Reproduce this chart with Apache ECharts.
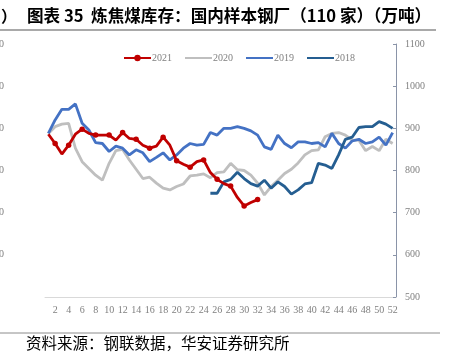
<!DOCTYPE html>
<html lang="zh">
<head>
    <meta charset="UTF-8">
    <title>炼焦煤库存</title>
    <script src="https://cdn.jsdelivr.net/npm/echarts@6/dist/echarts.min.js"></script>
    <style>
        * { margin: 0; padding: 0 }
        html, body { width: 100%; height: 100%; background: #fff }
        #main { width: 457px; height: 354px }
    </style>
</head>
<body>
    <div id="main"></div>
    <script type="text/javascript">
        // 周次 1..52
        var weeks = [];
        for (var i = 1; i <= 52; i++) weeks.push(String(i));

        // 数据从图上估读（万吨）
        var y2021 = [886, 864, 839, 860, 886, 898, 888, 884, 884, 884, 872, 890, 876, 874, 860, 853, 858, 879, 860, 823,
            815, 808, 821, 825, 795, 779, 769, 763, 736, 716, 724, 731];
        var y2020 = [888, 904, 910, 912, 853, 821, 805, 789, 777, 817, 847, 850, 825, 803, 781, 784, 770, 758, 754, 762,
            768, 787, 789, 792, 783, 795, 797, 817, 802, 800, 789, 770, 742, 762, 777, 793, 803, 818, 837, 847,
            849, 880, 888, 890, 884, 872, 872, 847, 857, 847, 874, 864];
        var y2019 = [888, 920, 945, 945, 958, 912, 896, 866, 864, 845, 858, 853, 837, 849, 842, 821, 831, 842, 825, 837,
            853, 864, 860, 862, 890, 884, 900, 900, 904, 900, 894, 884, 856, 850, 884, 864, 854, 868, 868, 864,
            866, 856, 888, 864, 853, 870, 874, 864, 868, 879, 860, 890];
        var y2018 = [null, null, null, null, null, null, null, null, null, null, null, null, null, null, null, null, null, null, null, null,
            null, null, null, null, 746, 746, 773, 779, 796, 781, 769, 763, 777, 758, 773, 762, 744, 754, 768, 771,
            817, 813, 805, 837, 874, 879, 902, 904, 904, 916, 910, 900];

        var serif = '"Liberation Serif", "DejaVu Serif", serif';
        var cjk = '"Noto Sans CJK SC", sans-serif';

        var myChart = echarts.init(document.getElementById('main'));
        var option = {
            animation: false,
            backgroundColor: '#fff',
            grid: { left: 45, right: 61, top: 44, bottom: 57, outerBoundsMode: 'none', containLabel: false },
            legend: {
                top: 48,
                left: 118,
                itemWidth: 27,
                itemHeight: 8,
                itemGap: 12,
                textStyle: { fontFamily: serif, fontSize: 10, color: '#7f7f7f', padding: [0, 0, 0, -4] },
                data: [
                    { name: '2021' },
                    { name: '2020', itemStyle: { opacity: 0 } },
                    { name: '2019', itemStyle: { opacity: 0 } },
                    { name: '2018', itemStyle: { opacity: 0 } }
                ]
            },
            xAxis: {
                type: 'category',
                data: weeks,
                axisLine: { lineStyle: { color: '#d9d9d9', width: 1 } },
                axisTick: { show: false },
                axisLabel: {
                    interval: function (idx) { return idx % 2 === 1; },
                    fontFamily: serif, fontSize: 10, color: '#7f7f7f', margin: 8
                }
            },
            yAxis: [{
                // 左轴：原图只露出一部分
                type: 'value', position: 'left', min: 0, max: 600, interval: 100,
                axisLine: { show: false },
                axisTick: { show: false },
                splitLine: { show: false },
                axisLabel: {
                    margin: 41, fontFamily: serif, fontSize: 10, color: '#7f7f7f',
                    formatter: function (v) { return v === 0 ? '' : String(v); }
                }
            }, {
                type: 'value', position: 'right', min: 500, max: 1100, interval: 100,
                axisLine: { show: true, lineStyle: { color: '#8a94a8', width: 1 } },
                axisTick: { show: true, inside: true, length: 3, lineStyle: { color: '#8a94a8' } },
                splitLine: { show: false },
                axisLabel: {
                    margin: 9, fontFamily: serif, fontSize: 10, color: '#7f7f7f',
                    formatter: function (v) { return String(v); }
                }
            }],
            series: [{
                name: '2020', type: 'line', yAxisIndex: 1, data: y2020,
                symbol: 'none', lineStyle: { color: '#bfbfbf', width: 2.8 }, itemStyle: { color: '#bfbfbf' }
            }, {
                name: '2019', type: 'line', yAxisIndex: 1, data: y2019,
                symbol: 'none', lineStyle: { color: '#4472c4', width: 2.8 }, itemStyle: { color: '#4472c4' }
            }, {
                name: '2018', type: 'line', yAxisIndex: 1, data: y2018,
                symbol: 'none', lineStyle: { color: '#255e91', width: 2.8 }, itemStyle: { color: '#255e91' }
            }, {
                name: '2021', type: 'line', yAxisIndex: 1, data: y2021,
                symbol: 'circle', symbolSize: 5.5,
                lineStyle: { color: '#c00000', width: 2.8 }, itemStyle: { color: '#c00000' }
            }],
            graphic: [
                { type: 'text', left: 1, top: 8, style: { text: '）', font: 'bold 16px ' + cjk, fill: '#000' } },
                {
                    type: 'text', left: 27, top: 7,
                    style: { text: '图表 35  炼焦煤库存：国内样本钢厂（110 家）（万吨）', font: 'bold 16.6px ' + cjk, fill: '#000' }
                },
                { type: 'line', shape: { x1: 0, y1: 30, x2: 436, y2: 30 }, style: { stroke: '#8c8c8c', lineWidth: 1.5 } },
                { type: 'line', shape: { x1: 0, y1: 333, x2: 440, y2: 333 }, style: { stroke: '#8c8c8c', lineWidth: 1 } },
                {
                    type: 'text', left: 26, top: 335,
                    style: { text: '资料来源：钢联数据，华安证券研究所', font: '15.5px ' + cjk, fill: '#000' }
                }
            ]
        };
        myChart.setOption(option);
    </script>
</body>
</html>
